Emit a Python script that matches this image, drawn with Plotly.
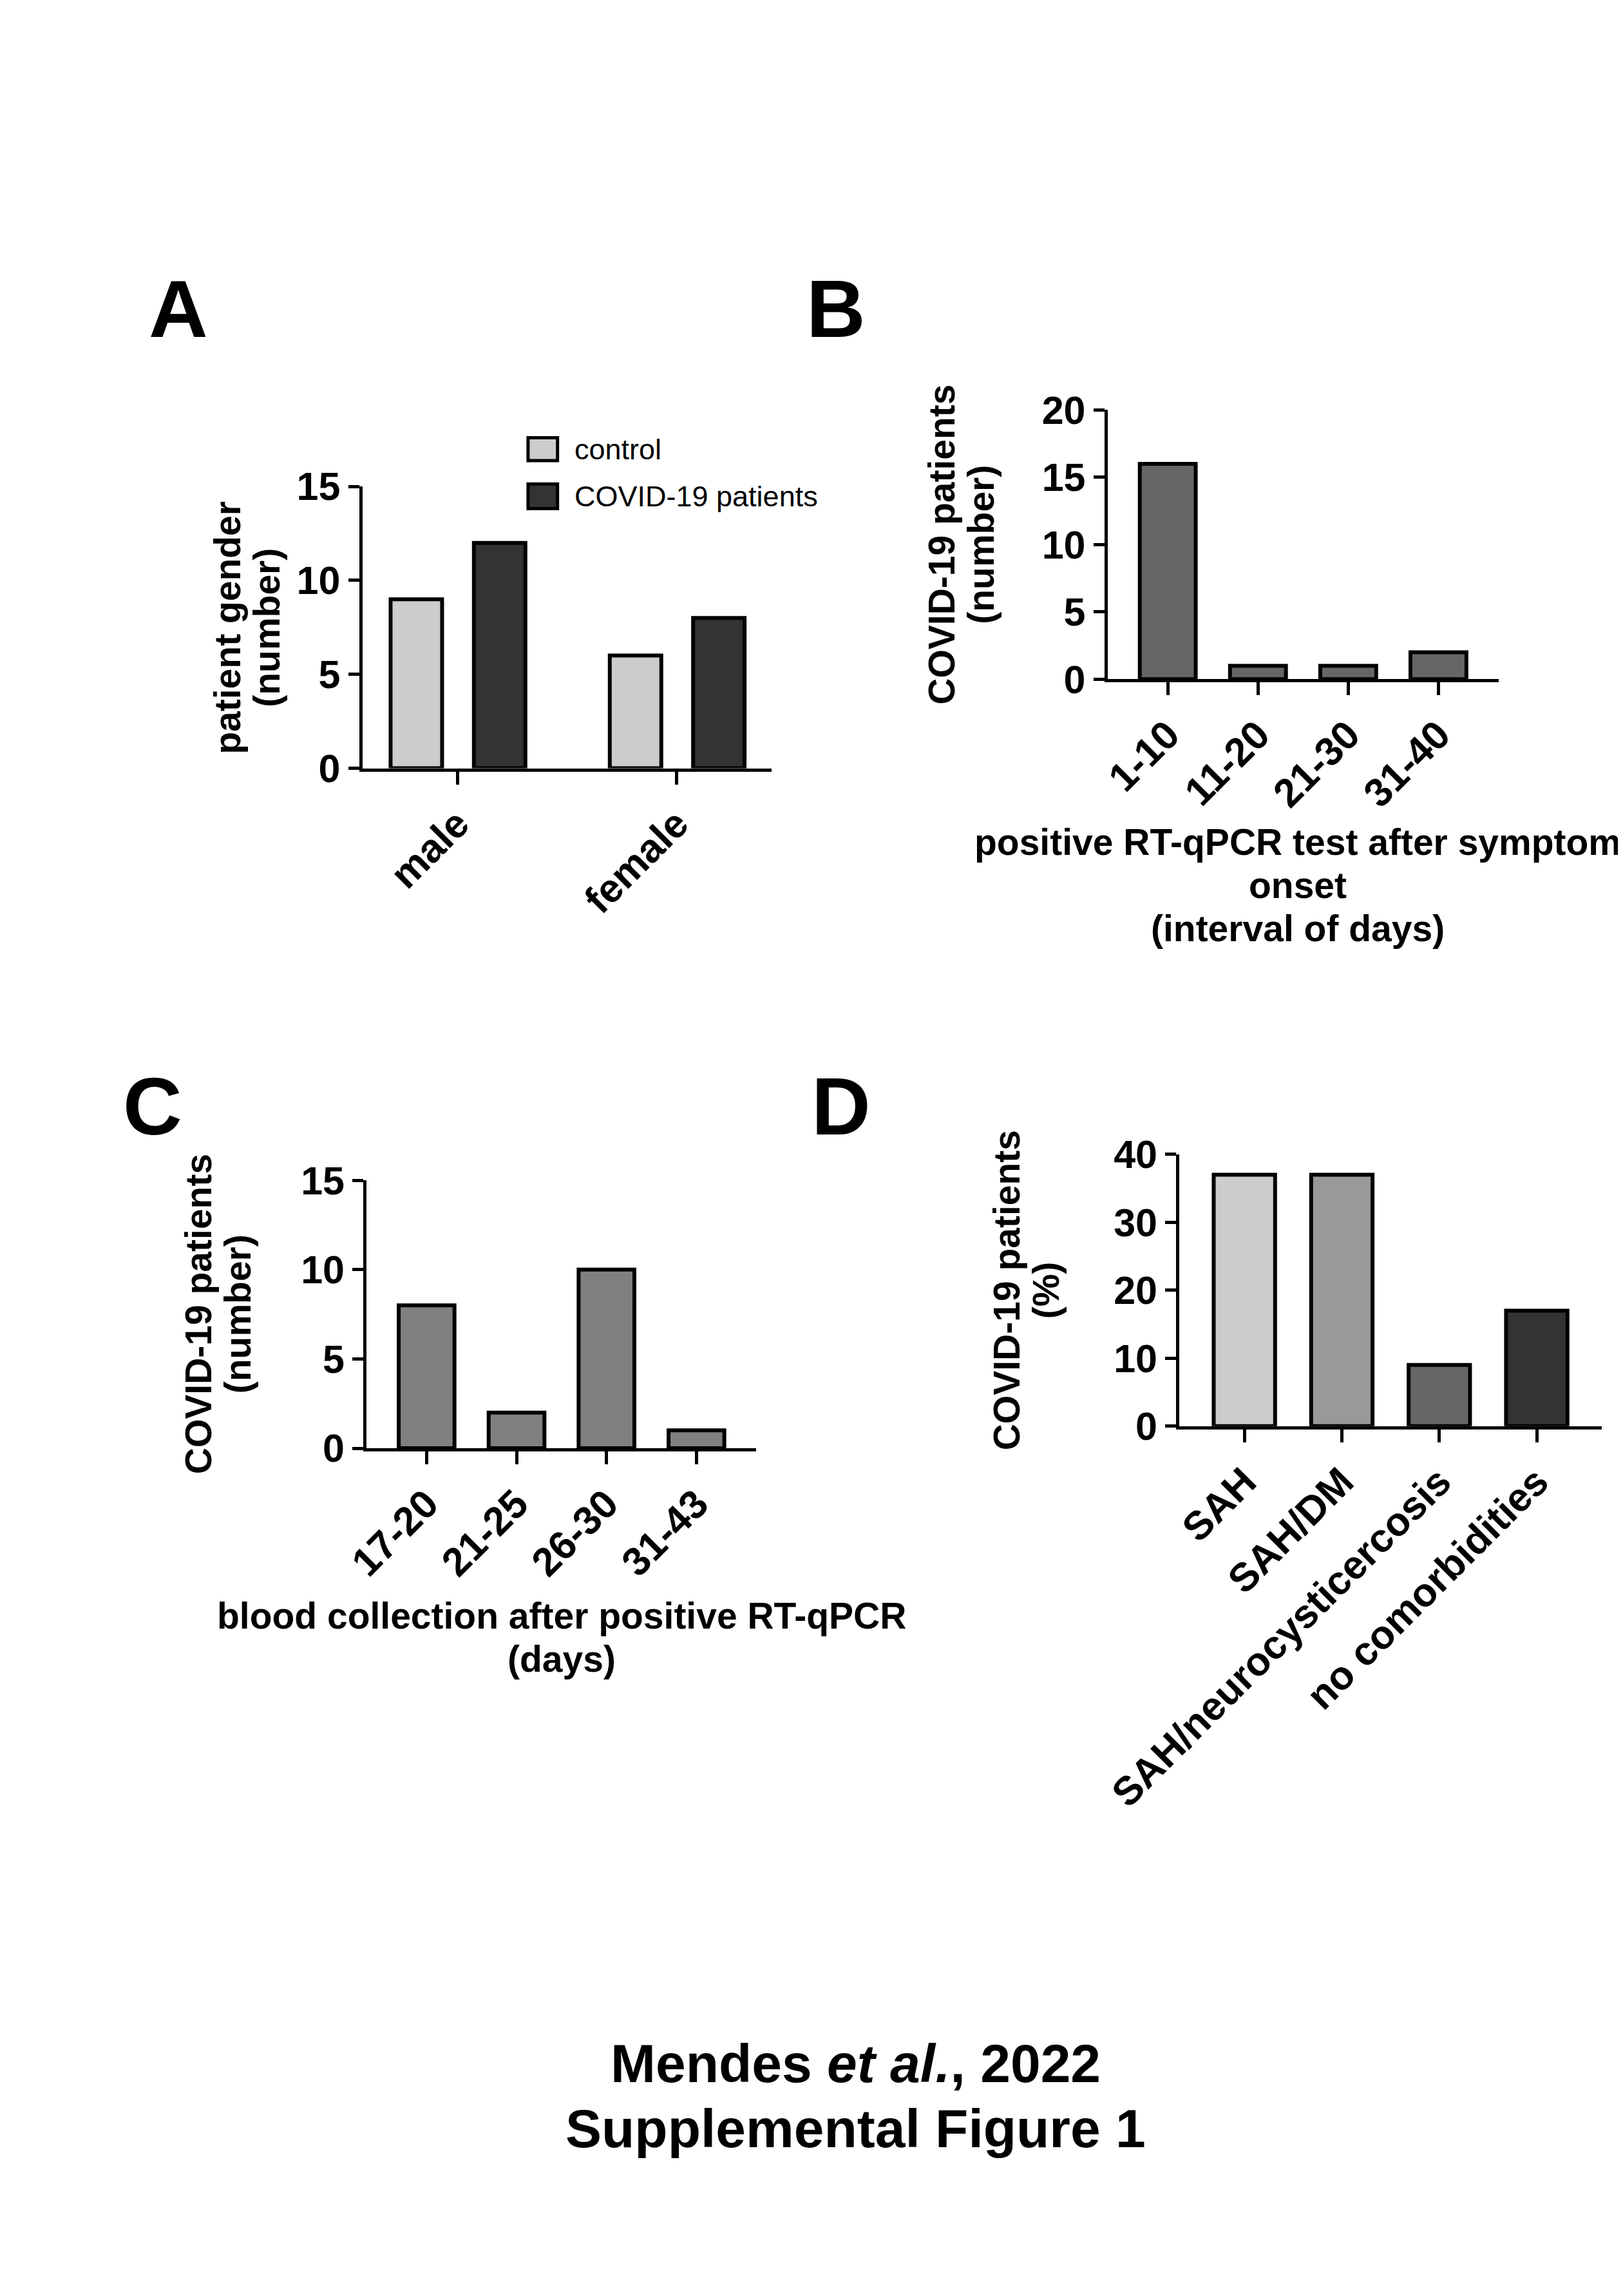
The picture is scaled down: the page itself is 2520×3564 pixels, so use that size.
import plotly.graph_objects as go

# ---------------- data ----------------
genders = ["male", "female"]
control_counts = [9, 6]
covid_counts = [12, 8]

onset_intervals = ["1-10", "11-20", "21-30", "31-40"]
onset_counts = [16, 1, 1, 2]

blood_intervals = ["17-20", "21-25", "26-30", "31-43"]
blood_counts = [8, 2, 10, 1]

comorbidities = ["SAH", "SAH/DM", "SAH/neurocysticercosis", "no comorbidities"]
comorbidity_pct = [37, 37, 9, 17]

# ---------------- layout helpers ----------------
W, H = 2520, 3564
FONT = "Liberation Sans, Arial, sans-serif"


def px(x):
    return x / W


def py(y):
    return 1 - y / H


fig = go.Figure()

LINE_W = 6
BAR_LINE = dict(color="black", width=LINE_W)

# Panel A
fig.add_trace(go.Bar(x=genders, y=control_counts, name="control",
                     marker=dict(color="#cccccc", line=BAR_LINE),
                     offset=-0.305, width=0.235, xaxis="x", yaxis="y", showlegend=False))
fig.add_trace(go.Bar(x=genders, y=covid_counts, name="COVID-19 patients",
                     marker=dict(color="#333333", line=BAR_LINE),
                     offset=0.075, width=0.235, xaxis="x", yaxis="y", showlegend=False))
# Panel B
fig.add_trace(go.Bar(x=onset_intervals, y=onset_counts,
                     marker=dict(color="#666666", line=BAR_LINE),
                     width=0.62, xaxis="x2", yaxis="y2", showlegend=False))
# Panel C
fig.add_trace(go.Bar(x=blood_intervals, y=blood_counts,
                     marker=dict(color="#808080", line=BAR_LINE),
                     width=0.62, xaxis="x3", yaxis="y3", showlegend=False))
# Panel D
fig.add_trace(go.Bar(x=comorbidities, y=comorbidity_pct,
                     marker=dict(color=["#cccccc", "#999999", "#666666", "#333333"], line=BAR_LINE),
                     width=0.63, xaxis="x4", yaxis="y4", showlegend=False))

xtickfont = dict(family=FONT, size=62, color="black", weight="bold")
ytickfont = dict(family=FONT, size=61, color="black", weight="bold")


def xax(dom, rng, anchor):
    return dict(domain=dom, range=rng, anchor=anchor, type="category",
                showline=True, linewidth=5, linecolor="black",
                ticks="outside", ticklen=20, tickwidth=5, tickcolor="black",
                tickangle=-45, tickfont=xtickfont, showgrid=False, zeroline=False,
                fixedrange=True)


def yax(dom, rng, dtick, anchor):
    return dict(domain=dom, range=rng, anchor=anchor, dtick=dtick,
                showline=True, linewidth=5, linecolor="black",
                ticks="outside", ticklen=17, tickwidth=5, tickcolor="black",
                tickfont=ytickfont, showgrid=False, zeroline=False, fixedrange=True)


# pixel boxes of the plot areas (left, right, top, bottom)
A = (458, 1125, 727, 1173)
B = (1672, 2309, 606, 1032)
C = (465, 1100, 1825, 2249)
D = (1789, 2477, 1784, 2214)


def dom(box):
    l, r, t, b = box
    return [px(l), px(r)], [py(b), py(t)]


ax, ay = dom(A)
bx, by = dom(B)
cx, cy = dom(C)
dx, dy = dom(D)

fig.update_layout(
    width=W, height=H, autosize=False,
    margin=dict(l=0, r=0, t=0, b=0),
    paper_bgcolor="white", plot_bgcolor="white",
    barmode="overlay",
    font=dict(family=FONT, color="black"),
    xaxis=xax(ax, [-0.434, 1.434], "y"),
    yaxis=yax(ay, [0, 15], 5, "x"),
    xaxis2=xax(bx, [-0.667, 3.667], "y2"),
    yaxis2=yax(by, [0, 20], 5, "x2"),
    xaxis3=xax(cx, [-0.667, 3.667], "y3"),
    yaxis3=yax(cy, [0, 15], 5, "x3"),
    xaxis4=xax(dx, [-0.667, 3.667], "y4"),
    yaxis4=yax(dy, [0, 40], 10, "x4"),
)

ann = []
title_font = dict(family=FONT, size=57, color="black", weight="bold")
letter_font = dict(family=FONT, size=127, color="black", weight="bold")


def note(text, x, y, font, xanchor="center", angle=0):
    ann.append(dict(text=text, x=px(x), y=py(y), xref="paper", yref="paper",
                    xanchor=xanchor, yanchor="middle", textangle=angle,
                    showarrow=False, font=font, align="center"))


# panel letters
for letter, (x, y) in {"A": (158, 446), "B": (1230, 446), "C": (116, 1708), "D": (1238, 1708)}.items():
    note(letter, x, y, letter_font)

# y axis titles (one annotation per line, rotated)
for (l1, l2), (x1, x2), yc in [(("patient gender", "(number)"), (238, 302), 950),
                               (("COVID-19 patients", "(number)"), (1402, 1466), 819),
                               (("COVID-19 patients", "(number)"), (191, 255), 2037),
                               (("COVID-19 patients", "(%)"), (1507, 1571), 1999)]:
    note(l1, x1, yc, title_font, angle=-90)
    note(l2, x2, yc, title_font, angle=-90)

# x axis titles
for line, y in zip(["positive RT-qPCR test after symptom", "onset", "(interval of days)"],
                   [1290, 1358, 1426]):
    note(line, 1982, y, title_font)
for line, y in zip(["blood collection after positive RT-qPCR", "(days)"], [2514, 2582]):
    note(line, 783, y, title_font)

# legend for panel A
legend_items = [("control", "#cccccc", 650, 686), ("COVID-19 patients", "#333333", 723, 762)]
shapes = []
for label, col, t, b in legend_items:
    shapes.append(dict(type="rect", xref="paper", yref="paper", x0=px(728), x1=px(776),
                       y0=py(b), y1=py(t), fillcolor=col, line=dict(color="black", width=5)))
    note(label, 802, (t + b) / 2, dict(family=FONT, size=45, color="black"), xanchor="left")

# caption
note("<b>Mendes <i>et al.</i>, 2022</b>", 1262, 3222, dict(family=FONT, size=84, color="black"))
note("<b>Supplemental Figure 1</b>", 1262, 3325, dict(family=FONT, size=84, color="black"))

fig.update_layout(annotations=ann, shapes=shapes)

fig.write_html("out.html")
